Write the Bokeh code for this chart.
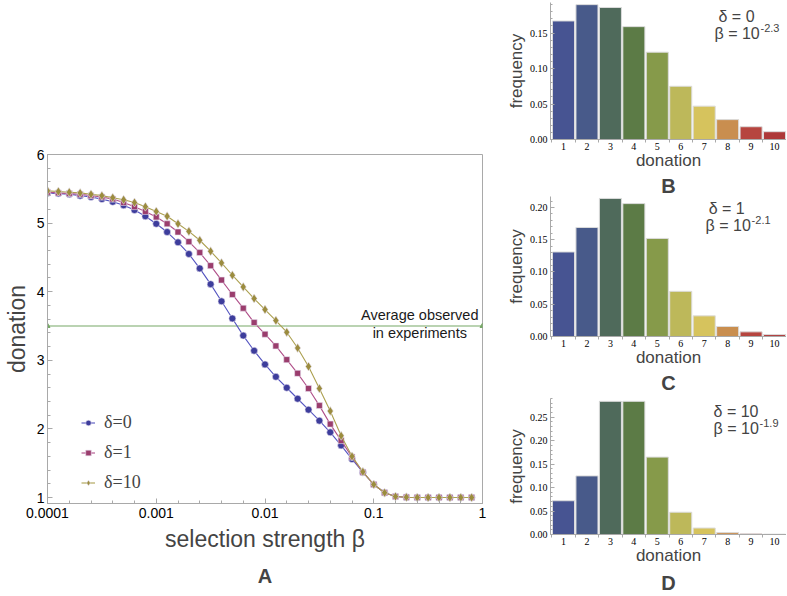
import numpy as np
from bokeh.plotting import figure
from bokeh.layouts import row, column
from bokeh.models import (Range1d, FixedTicker, Legend, LegendItem,
                          Title, Label, CustomJSTickFormatter, NumeralTickFormatter)
from bokeh.core.properties import value
from bokeh.embed import file_html
from bokeh.resources import INLINE

# ---------------- data: panel A ----------------
log10_beta = [-4.0, -3.9, -3.8, -3.7, -3.6, -3.5, -3.4, -3.3, -3.2, -3.1,
              -3.0, -2.9, -2.8, -2.7, -2.6, -2.5, -2.4, -2.3, -2.2, -2.1,
              -2.0, -1.9, -1.8, -1.7, -1.6, -1.5, -1.4, -1.3, -1.2, -1.1,
              -1.0, -0.9, -0.8, -0.7, -0.6, -0.5, -0.4, -0.3, -0.2, -0.1]
beta = [10 ** e for e in log10_beta]

donation_d0 = [5.44, 5.43, 5.42, 5.40, 5.38, 5.35, 5.31, 5.26, 5.19, 5.10,
               4.99, 4.87, 4.72, 4.55, 4.34, 4.11, 3.86, 3.61, 3.36, 3.14,
               2.94, 2.76, 2.60, 2.44, 2.28, 2.12, 1.95, 1.76, 1.56, 1.37,
               1.19, 1.07, 1.015, 1.005, 1.0, 1.0, 1.0, 1.0, 1.0, 1.0]
donation_d1 = [5.45, 5.44, 5.43, 5.42, 5.40, 5.38, 5.35, 5.30, 5.24, 5.17,
               5.09, 4.99, 4.87, 4.73, 4.57, 4.38, 4.17, 3.96, 3.76, 3.55,
               3.38, 3.21, 3.01, 2.81, 2.59, 2.34, 2.07, 1.83, 1.59, 1.37,
               1.19, 1.07, 1.015, 1.005, 1.0, 1.0, 1.0, 1.0, 1.0, 1.0]
donation_d10 = [5.47, 5.46, 5.45, 5.44, 5.42, 5.40, 5.37, 5.34, 5.30, 5.24,
                5.17, 5.10, 4.99, 4.88, 4.75, 4.59, 4.42, 4.24, 4.07, 3.90,
                3.74, 3.58, 3.41, 3.18, 2.91, 2.59, 2.26, 1.90, 1.60, 1.375,
                1.19, 1.07, 1.015, 1.005, 1.0, 1.0, 1.0, 1.0, 1.0, 1.0]
series_labels = ["δ=0", "δ=1", "δ=10"]

avg_x = [1e-4, 1.0]
avg_y = [3.5, 3.5]
avg_text = "Average observed\nin experiments"

x_major = [1e-4, 1e-3, 1e-2, 1e-1, 1.0]
y_major = [1, 2, 3, 4, 5, 6]

# ---------------- data: panels B, C, D ----------------
donation_levels = [1, 2, 3, 4, 5, 6, 7, 8, 9, 10]
freq_B = [0.167, 0.190, 0.186, 0.159, 0.123, 0.075, 0.047, 0.028, 0.018, 0.011]
freq_C = [0.131, 0.169, 0.214, 0.206, 0.152, 0.070, 0.032, 0.0155, 0.0072, 0.003]
freq_D = [0.072, 0.125, 0.284, 0.284, 0.165, 0.0475, 0.0138, 0.004, 0.0014, 0.0007]
bar_colors = ["#475492", "#485a8a", "#4f6a5b", "#5c7b46", "#869a4a",
              "#bdb85a", "#d6c35d", "#c98e4f", "#b6453f", "#ae3838"]

GRAY = "#a9a9a9"
SANS = "Liberation Sans"
SERIF = "Liberation Serif"

# ---------------- panel A ----------------
p = figure(width=490, height=596, x_axis_type="log",
           x_range=Range1d(1e-4, 1.0), y_range=Range1d(0.913, 6.0),
           output_backend="svg", toolbar_location=None,
           min_border_left=45, min_border_right=8, min_border_top=154, min_border_bottom=93)
p.grid.visible = False
p.outline_line_color = GRAY
p.background_fill_color = "white"

x_minor = [10 ** (-4 + 0.2 * i) for i in range(21)]
y_minor = [round(1 + 0.2 * i, 2) for i in range(26)]
fmt = CustomJSTickFormatter(code="return tick >= 1 ? tick.toFixed(0) : tick.toPrecision(1);")

def style_axis(ax):
    ax.axis_line_color = GRAY
    ax.major_tick_line_color = GRAY
    ax.minor_tick_line_color = GRAY
    ax.major_tick_in = 5
    ax.major_tick_out = 0
    ax.minor_tick_in = 3
    ax.minor_tick_out = 0
    ax.major_label_text_font = SANS
    ax.major_label_text_font_size = "14px"
    ax.major_label_text_color = "black"

xa = p.xaxis[0]
xa.ticker = FixedTicker(ticks=x_major, minor_ticks=x_minor)
xa.formatter = fmt
style_axis(xa)
xa.major_label_standoff = 4
xa.axis_label = "selection strength β"
xa.axis_label_text_font = SANS
xa.axis_label_text_font_style = "normal"
xa.axis_label_text_font_size = "23px"
xa.axis_label_standoff = 5

ya = p.yaxis[0]
ya.ticker = FixedTicker(ticks=y_major, minor_ticks=y_minor)
style_axis(ya)
ya.major_label_standoff = 3
ya.axis_label = "donation"
ya.axis_label_text_font = SANS
ya.axis_label_text_font_style = "normal"
ya.axis_label_text_font_size = "23px"
ya.axis_label_standoff = 4

# average observed line
p.line(avg_x, avg_y, line_color="#76a866", line_width=1.2)
p.scatter(avg_x, avg_y, marker="triangle", size=5, fill_color="#76a866", line_color="#76a866")
p.text(x=[0.265], y=[3.524], text=[avg_text], text_align="center", text_baseline="middle",
       text_font=value(SANS), text_font_size="14.5px", text_color="#1a1a1a", text_line_height=1.12)

colors = ["#3d3d9c", "#9a3d6d", "#9b8c3e"]
line_colors = ["#5454c0", "#b0508a", "#aca050"]
markers = ["circle", "square", "diamond"]
sizes = [7, 6, 9]
items = []
for ys, c, lc, m, s, lab in zip([donation_d0, donation_d1, donation_d10], colors, line_colors,
                                markers, sizes, series_labels):
    ln = p.line(beta, ys, line_color=lc, line_width=1.1)
    sc = p.scatter(beta, ys, marker=m, size=s, fill_color=c, line_color="#e8e0f0", line_width=0.6)
    items.append(LegendItem(label=lab, renderers=[ln, sc]))

legend = Legend(items=items, location=(34, 7), label_text_font=SERIF, label_text_font_size="18px",
                glyph_width=14, glyph_height=27, label_height=27, spacing=3, padding=0, margin=0,
                label_standoff=9, border_line_color=None, background_fill_alpha=0)
p.add_layout(legend)

p.add_layout(Title(text="A", align="center", text_font=SANS, text_font_size="20px",
                   text_font_style="bold", standoff=17), "below")

# ---------------- panels B, C, D ----------------
def bar_panel(freqs, ymax, yticks, height, top, bottom, letter, title_standoff,
              delta_txt, beta_exp, dpos, bpos):
    f = figure(width=296, height=height, x_range=Range1d(0.445, 10.51), y_range=Range1d(0, ymax),
               output_backend="svg", toolbar_location=None,
               min_border_left=60, min_border_right=0, min_border_top=top, min_border_bottom=bottom)
    f.grid.visible = False
    f.outline_line_color = None
    f.vbar(x=donation_levels, top=freqs, width=0.94, fill_color=bar_colors,
           line_color="#dcdcdc", line_width=1)
    xa = f.xaxis[0]
    xa.ticker = FixedTicker(ticks=donation_levels,
                            minor_ticks=[i + 0.5 for i in range(0, 11)])
    xa.axis_line_color = GRAY
    xa.major_tick_out = 0
    xa.major_tick_in = 0
    xa.minor_tick_out = 3
    xa.minor_tick_in = 0
    xa.minor_tick_line_color = GRAY
    xa.major_label_text_font = SERIF
    xa.major_label_text_font_size = "10px"
    xa.major_label_text_color = "black"
    xa.major_label_standoff = 0
    xa.axis_label = "donation"
    xa.axis_label_text_font = SANS
    xa.axis_label_text_font_style = "normal"
    xa.axis_label_text_font_size = "17px"
    xa.axis_label_standoff = -2
    ya = f.yaxis[0]
    ya.ticker = FixedTicker(ticks=yticks, minor_ticks=[round(0.01 * i, 2) for i in range(31)])
    ya.formatter = NumeralTickFormatter(format="0.00")
    ya.axis_line_color = GRAY
    ya.major_tick_line_color = GRAY
    ya.minor_tick_line_color = GRAY
    ya.major_tick_in = 4
    ya.major_tick_out = 0
    ya.minor_tick_in = 2
    ya.minor_tick_out = 0
    ya.major_label_text_font = SERIF
    ya.major_label_text_font_size = "10px"
    ya.major_label_text_color = "black"
    ya.major_label_standoff = 3
    ya.axis_label = "frequency"
    ya.axis_label_text_font = SANS
    ya.axis_label_text_font_style = "normal"
    ya.axis_label_text_font_size = "17px"
    ya.axis_label_standoff = 1
    f.add_layout(Label(x=dpos[0], y=dpos[1], text=delta_txt, text_font=SANS, text_font_size="16px",
                       text_baseline="middle", text_align="left"))
    f.add_layout(Label(x=bpos[0], y=bpos[1], text="β = 10", text_font=SANS, text_font_size="16px",
                       text_baseline="middle", text_align="left"))
    f.add_layout(Label(x=bpos[0], y=bpos[1], x_offset=46, y_offset=6, text=beta_exp, text_font=SANS,
                       text_font_size="11px", text_baseline="middle", text_align="left"))
    f.add_layout(Title(text=letter, align="center", text_font=SANS, text_font_size="20px",
                       text_font_style="bold", standoff=title_standoff), "below")
    return f

fB = bar_panel(freq_B, 0.193, [0.0, 0.05, 0.10, 0.15], 196, 2, 54, "B", 0, "δ = 0", "-2.3",
               (7.61, 0.1737), (7.44, 0.149))
fC = bar_panel(freq_C, 0.217, [0.0, 0.05, 0.10, 0.15, 0.20], 198, 0, 58, "C", 1, "δ = 1", "-2.1",
               (7.19, 0.198), (7.06, 0.172))
fD = bar_panel(freq_D, 0.29, [0.0, 0.05, 0.10, 0.15, 0.20, 0.25], 202, 4, 58, "D", 5, "δ = 10", "-1.9",
               (7.40, 0.262), (7.40, 0.225))

layout = row(p, column(fB, fC, fD, spacing=0), spacing=0)
open("out.html", "w").write(file_html(layout, INLINE))
